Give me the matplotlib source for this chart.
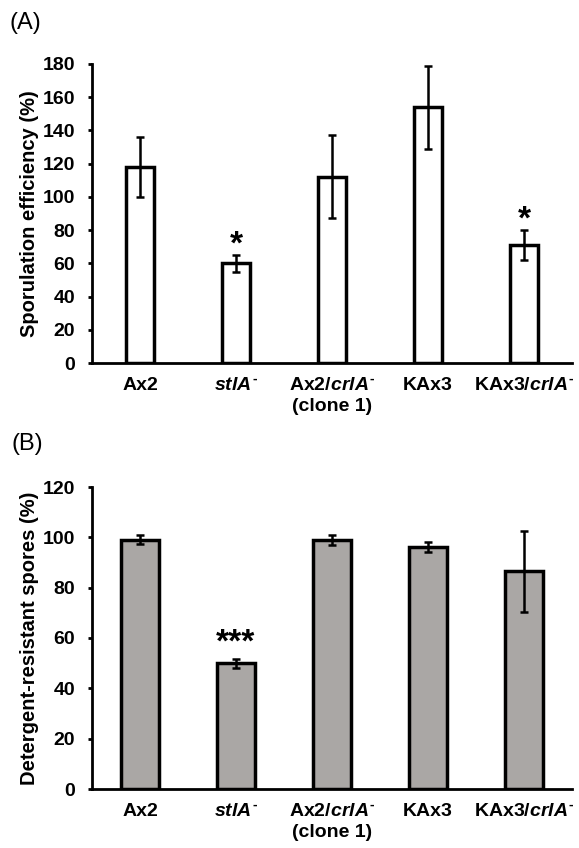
import matplotlib
matplotlib.use("Agg")
import matplotlib.pyplot as plt
import numpy as np

plt.rcParams['font.family'] = ['Liberation Sans', 'DejaVu Sans']
plt.rcParams['font.weight'] = 'bold'
plt.rcParams['mathtext.fontset'] = 'custom'
plt.rcParams['mathtext.rm'] = 'Liberation Sans:bold'
plt.rcParams['mathtext.it'] = 'Liberation Sans:italic:bold'
plt.rcParams['mathtext.bf'] = 'Liberation Sans:bold'

categories = ['Ax2', r'$\mathit{stlA}^{\text{-}}$',
              'Ax2/$\\mathit{crlA}^{\\text{-}}$\n(clone 1)', 'KAx3',
              r'KAx3/$\mathit{crlA}^{\text{-}}$']

spor_values = [118, 60, 112, 154, 71]
spor_errors = [18, 5, 25, 25, 9]
spor_marks = ['', '*', '', '', '*']

det_values = [99, 50, 99, 96, 86.5]
det_errors = [1.8, 1.8, 2.0, 2.0, 16]
det_marks = ['', '***', '', '', '']

A_ticks = [0, 20, 40, 60, 80, 100, 120, 140, 160, 180]
B_ticks = [0, 20, 40, 60, 80, 100, 120]

W, H = 579, 848
fig = plt.figure(figsize=(W / 100, H / 100), dpi=100)

axA = fig.add_axes([92 / W, (H - 363) / H, 480 / W, 299 / H])
axB = fig.add_axes([92 / W, (H - 789) / H, 480 / W, 302 / H])


def style(ax, ticks, ylabel):
    for s in ['top', 'right']:
        ax.spines[s].set_visible(False)
    for s in ['left', 'bottom']:
        ax.spines[s].set_linewidth(2.0)
    ax.set_xlim(-0.5, 4.5)
    ax.set_ylim(ticks[0], ticks[-1])
    ax.set_yticks(ticks)
    ax.set_yticklabels([str(t) for t in ticks], fontsize=14, fontweight='bold')
    ax.tick_params(axis='y', direction='out', length=3, width=2, pad=9)
    ax.tick_params(axis='x', length=0, pad=10)
    ax.set_xticks(np.arange(len(categories)))
    ax.set_xticklabels(categories, fontsize=14, fontweight='bold', linespacing=1.3)
    ax.set_ylabel(ylabel, fontsize=14.5, fontweight='bold', labelpad=3)


x = np.arange(len(categories))

# Panel A
axA.bar(x, spor_values, width=0.29, color='white', edgecolor='black', linewidth=2.5, zorder=2)
axA.errorbar(x, spor_values, yerr=spor_errors, fmt='none', ecolor='black',
             elinewidth=1.8, capsize=3, capthick=1.8, zorder=3)
for xi, v, e, m in zip(x, spor_values, spor_errors, spor_marks):
    if m:
        axA.text(xi, v + e + 1, m, ha='center', va='baseline', fontsize=24, fontweight='bold')
style(axA, A_ticks, 'Sporulation efficiency (%)')

# Panel B
axB.bar(x, det_values, width=0.39, color='#aaa7a5', edgecolor='black', linewidth=2.5, zorder=2)
axB.errorbar(x, det_values, yerr=det_errors, fmt='none', ecolor='black',
             elinewidth=1.8, capsize=3, capthick=1.8, zorder=3)
for xi, v, e, m in zip(x, det_values, det_errors, det_marks):
    if m:
        axB.text(xi, v + e + 3, m, ha='center', va='baseline', fontsize=24, fontweight='bold')
style(axB, B_ticks, 'Detergent-resistant spores (%)')

fig.text(25 / W, 1 - 23 / H, '(A)', fontsize=17, fontweight='normal', ha='center', va='center')
fig.text(27 / W, 1 - 444 / H, '(B)', fontsize=17, fontweight='normal', ha='center', va='center')

fig.savefig('out.png', dpi=100)
